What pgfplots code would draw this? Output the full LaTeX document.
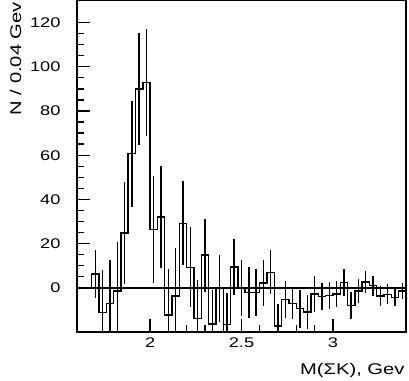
\documentclass[border=0pt]{standalone}
\usepackage{fontspec}
\setmainfont{Liberation Sans}[FakeStretch=1.3]
\usepackage{pgfplots}
\usepackage{pgfplotstable}
\pgfplotsset{compat=1.18}
% bin left edge, content, error
\pgfplotstableread{
x y e
1.68 6.3 11
1.72 -11.3 19.5
1.76 -7.0 19.5
1.80 -1.5 22.3
1.84 24.8 23
1.88 60.7 24
1.92 89.9 25.4
1.96 92.9 24
2.00 26.5 24.3
2.04 32.0 23
2.08 -12.3 21
2.12 -3.7 21.8
2.16 29.2 19
2.20 9.3 18
2.24 -13.8 17.5
2.28 14.8 16.5
2.32 -16.3 15.5
2.36 -0.3 15.2
2.40 -16.5 14
2.44 9.4 12.5
2.48 0.0 12.7
2.52 -2.2 11.6
2.56 -2.2 10.7
2.60 2.2 10.4
2.64 7.0 10
2.68 -17.2 10
2.72 -5.2 8.5
2.76 -7.1 7
2.80 -9.5 8.5
2.84 -10.9 7.6
2.88 -2.8 8
2.92 -4.0 6
2.96 -3.6 6
3.00 -2.8 6
3.04 2.3 6
3.08 -8.0 6
3.12 -1.4 5.5
3.16 2.6 5
3.20 1.0 4.5
3.24 -3.7 4.5
3.28 -3.0 4.5
3.32 -4.3 4
3.36 -1.4 3.5
}\bins
\begin{document}
\begin{tikzpicture}
\useasboundingbox (-77pt,-48pt) rectangle (332pt,332pt);
\begin{axis}[
 at={(0,0)}, anchor=south west,
 scale only axis, width=329pt, height=331.5pt,
 xmin=1.6, xmax=3.4, ymin=-20, ymax=130,
 xtick={2,2.5,3}, minor x tick num=4,
 ytick={0,20,...,120}, minor y tick num=3,
 tick align=inside, xtick pos=bottom, ytick pos=left,
 major tick length=13pt, minor tick length=7pt,
 tick style={black, line width=1.3pt},
 axis line style={line width=1.4pt},
 tick label style={font=\fontsize{14}{16}\selectfont},
 /pgf/number format/assume math mode=true,
 yticklabel style={xshift=-13pt},
 xticklabel style={yshift=-2pt},
 xlabel={M(ΣK), Gev}, ylabel={N / 0.04 Gev},
 label style={font=\fontsize{15.5}{17}\selectfont},
 xlabel style={at={(axis description cs:1.006,-0.1297)}, anchor=base east},
 ylabel style={at={(axis description cs:-0.170,1.006)}, anchor=base east},
]
\addplot[black, line width=1.4pt] coordinates {(1.6,0) (3.4,0)};
\addplot[const plot, black, line width=1.4pt] coordinates {
(1.68,0) (1.68,6.3) (1.72,-11.3) (1.76,-7.0) (1.80,-1.5) (1.84,24.8) (1.88,60.7)
(1.92,89.9) (1.96,92.9) (2.00,26.5) (2.04,32.0) (2.08,-12.3) (2.12,-3.7)
(2.16,29.2) (2.20,9.3) (2.24,-13.8) (2.28,14.8) (2.32,-16.3) (2.36,-0.3)
(2.40,-16.5) (2.44,9.4) (2.48,0.0) (2.52,-2.2) (2.56,-2.2) (2.60,2.2) (2.64,7.0)
(2.68,-17.2) (2.72,-5.2) (2.76,-7.1) (2.80,-9.5) (2.84,-10.9) (2.88,-2.8)
(2.92,-4.0) (2.96,-3.6) (3.00,-2.8) (3.04,2.3) (3.08,-8.0) (3.12,-1.4)
(3.16,2.6) (3.20,1.0) (3.24,-3.7) (3.28,-3.0) (3.32,-4.3) (3.36,-1.4) (3.40,-1.4)};
\addplot[draw=none, mark=none,
 error bars/.cd, y dir=both, y explicit, error mark=none,
 error bar style={draw=black, line width=1.4pt}]
 table[x expr=\thisrow{x}+0.02, y=y, y error=e] {\bins};
\end{axis}
\end{tikzpicture}
\end{document}
